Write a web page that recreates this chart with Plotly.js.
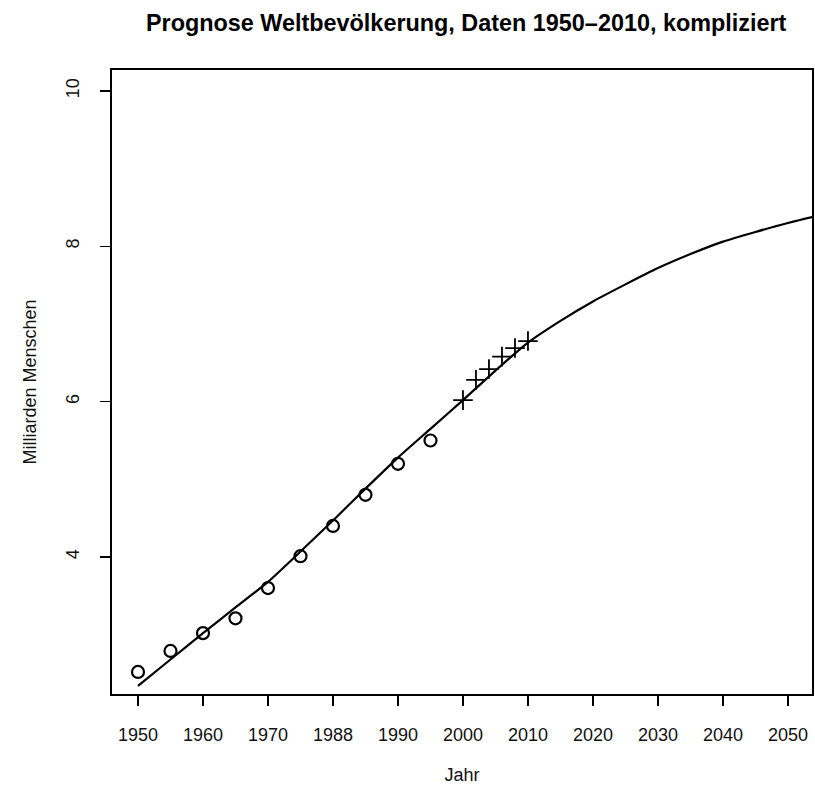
<!DOCTYPE html>
<html>
<head>
<meta charset="utf-8">
<script src="https://cdn.plot.ly/plotly-3.0.1.min.js"></script>
<style>html,body{margin:0;padding:0;background:#fff;}</style>
</head>
<body>
<div id="chart" style="width:815px;height:793px;"></div>
<script>
// Observed data 1950-1995 (circles)
const obsYears = [1950, 1955, 1960, 1965, 1970, 1975, 1980, 1985, 1990, 1995];
const obsValues = [2.52, 2.79, 3.02, 3.21, 3.60, 4.01, 4.40, 4.80, 5.20, 5.50];
// Data 2000-2010 (crosses)
const recentYears = [2000, 2002, 2004, 2006, 2008, 2010];
const recentValues = [6.02, 6.28, 6.42, 6.58, 6.69, 6.78];
// Fitted forecast curve
const fitYears = [1950, 1955, 1960, 1965, 1970, 1975, 1980, 1985, 1990, 1995, 2000, 2005, 2010, 2015, 2020, 2025, 2030, 2035, 2040, 2045, 2050, 2055, 2060];
const fitValues = [2.34, 2.68, 3.02, 3.35, 3.68, 4.07, 4.47, 4.88, 5.28, 5.65, 6.02, 6.40, 6.76, 7.04, 7.29, 7.51, 7.72, 7.90, 8.06, 8.185, 8.30, 8.40, 8.49];
// Axis ticks
const xTickVals = [1950, 1960, 1970, 1980, 1990, 2000, 2010, 2020, 2030, 2040, 2050];
const xTickText = ['1950', '1960', '1970', '1988', '1990', '2000', '2010', '2020', '2030', '2040', '2050'];
const yTickVals = [4, 6, 8, 10];

const font = 'Liberation Sans, Arial, Helvetica, sans-serif';

const traces = [
  {x: fitYears, y: fitValues, type: 'scatter', mode: 'lines',
   line: {color: '#000', width: 2.2, shape: 'spline', smoothing: 0.6}, hoverinfo: 'skip'},
  {x: obsYears, y: obsValues, type: 'scatter', mode: 'markers',
   marker: {symbol: 'circle-open', size: 12, color: '#000', line: {width: 2.2, color: '#000'}}},
  {x: recentYears, y: recentValues, type: 'scatter', mode: 'markers',
   marker: {symbol: 'cross-thin-open', size: 14, color: '#000', line: {width: 1.8, color: '#000'}}}
];

const layout = {
  width: 815, height: 793,
  showlegend: false,
  paper_bgcolor: '#fff', plot_bgcolor: '#fff',
  margin: {l: 112, r: 3, t: 70, b: 99},
  font: {family: font, color: '#000', size: 18},
  title: {text: '<b>Prognose Weltbevölkerung, Daten 1950\u20132010, kompliziert</b>',
          font: {family: font, size: 23.4, color: '#000'},
          x: 0.572, xanchor: 'center', y: 0.971, yanchor: 'middle'},
  xaxis: {
    range: [1946.0, 2053.7], showgrid: false, zeroline: false,
    tickmode: 'array', tickvals: xTickVals, ticktext: xTickText,
    ticks: 'outside', ticklen: 10, tickwidth: 1.6, tickcolor: '#000',
    ticklabelstandoff: 14,
    tickfont: {size: 18, color: '#111'},
    showline: true, linecolor: '#000', linewidth: 1.6, mirror: true,
    title: {text: 'Jahr', font: {size: 18, color: '#111'}, standoff: 24}
  },
  yaxis: {
    range: [2.236, 10.27], showgrid: false, zeroline: false,
    tickmode: 'array', tickvals: yTickVals, ticktext: yTickVals.map(String),
    ticks: 'outside', ticklen: 10, tickwidth: 1.6, tickcolor: '#000',
    ticklabelstandoff: 14,
    tickangle: -90, tickfont: {size: 18, color: '#111'},
    showline: true, linecolor: '#000', linewidth: 1.6, mirror: true,
    title: {text: 'Milliarden Menschen', font: {size: 18, color: '#111'}, standoff: 22}
  }
};

Plotly.newPlot('chart', traces, layout, {displayModeBar: false, staticPlot: true});
</script>
</body>
</html>
